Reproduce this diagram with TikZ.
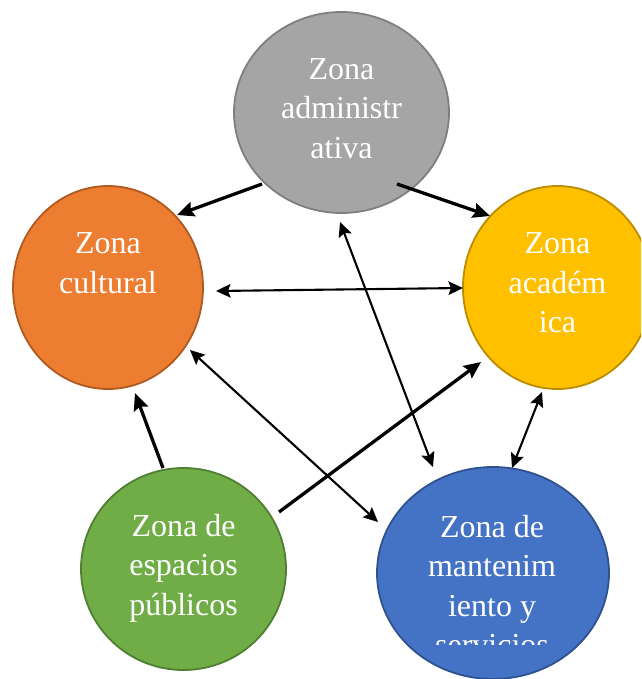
\documentclass[tikz,border=0pt]{standalone}
\usepackage{fontspec}
\setmainfont{Liberation Serif}
\usetikzlibrary{arrows.meta,calc,shapes.geometric}
\definecolor{grayfill}{HTML}{A5A5A5}
\definecolor{grayline}{HTML}{7F7F7F}
\definecolor{orangefill}{HTML}{ED7D31}
\definecolor{orangeline}{HTML}{AE5A21}
\definecolor{yellowfill}{HTML}{FFC000}
\definecolor{yellowline}{HTML}{BC8C00}
\definecolor{greenfill}{HTML}{70AD47}
\definecolor{greenline}{HTML}{507E32}
\definecolor{bluefill}{HTML}{4472C4}
\definecolor{blueline}{HTML}{2F528F}
\begin{document}
\begin{tikzpicture}[x=1pt,y=-1pt,
  zone/.style={ellipse, inner sep=0pt, outer sep=0pt, line width=1.8pt},
  zonetext/.style={anchor=north, inner sep=0pt, align=center, text=white,
    font=\fontsize{32}{39.5}\selectfont},
  thickarr/.style={line width=3.3pt, -{Stealth[length=17pt,width=15pt,inset=2.5pt]}},
  thinarr/.style={line width=2.1pt, {Stealth[length=14.5pt,width=13.5pt,inset=2.5pt]}-{Stealth[length=14.5pt,width=13.5pt,inset=2.5pt]}},
]
\useasboundingbox (0,0) rectangle (641,679);
\clip (0,0) rectangle (641,679);
% zones
\node[zone, fill=grayfill, draw=grayline, minimum width=215pt, minimum height=201pt] (gray) at (341.5,112.5) {};
\node[zone, fill=orangefill, draw=orangeline, minimum width=190pt, minimum height=203pt] (orange) at (108,287.5) {};
\node[zone, fill=yellowfill, draw=yellowline, minimum width=189pt, minimum height=203pt] (yellow) at (557.5,287.5) {};
\node[zone, fill=greenfill, draw=greenline, minimum width=205pt, minimum height=202pt] (green) at (183.5,569) {};
\node[zone, fill=bluefill, draw=blueline, minimum width=232pt, minimum height=212pt] (blue) at (493,573) {};
% texts
\node[zonetext] (graytext) at ($(gray.center)+(0,-54.5)$) {Zona\\administr\\ativa};
\node[zonetext] (orangetext) at ($(orange.center)+(0,-55)$) {Zona\\cultural};
\node[zonetext] (yellowtext) at ($(yellow.center)+(0,-55)$) {Zona\\académ\\ica};
\node[zonetext] (greentext) at ($(green.center)+(0,-55)$) {Zona de\\espacios\\públicos};
\begin{scope}
  \clip (377,440) rectangle (620,644);
  \node[zonetext] (bluetext) at ($(blue.center)+(-1,-58)$) {Zona de\\mantenim\\iento y\\servicios};
\end{scope}
% connectors
\draw[thickarr] ($(gray.center)+(-79.5,71.5)$) -- ($(orange.center)+(69,-72.5)$);
\draw[thickarr] ($(gray.center)+(55.5,71.5)$) -- ($(yellow.center)+(-67.5,-71.5)$);
\draw[thinarr] ($(orange.center)+(108,3.5)$) -- ($(yellow.center)+(-94.5,0.5)$);
\draw[thinarr] ($(gray.center)+(-1.5,109.5)$) -- ($(blue.center)+(-60,-106)$);
\draw[thinarr] ($(orange.center)+(82,62.5)$) -- ($(blue.center)+(-115,-51)$);
\draw[thickarr] ($(green.center)+(95.5,-57)$) -- ($(yellow.center)+(-76.5,74.5)$);
\draw[thickarr] ($(green.center)+(-20.5,-101)$) -- ($(orange.center)+(27,105.5)$);
\draw[thinarr] ($(yellow.center)+(-15.5,104.5)$) -- ($(blue.center)+(19,-105)$);
\end{tikzpicture}
\end{document}
